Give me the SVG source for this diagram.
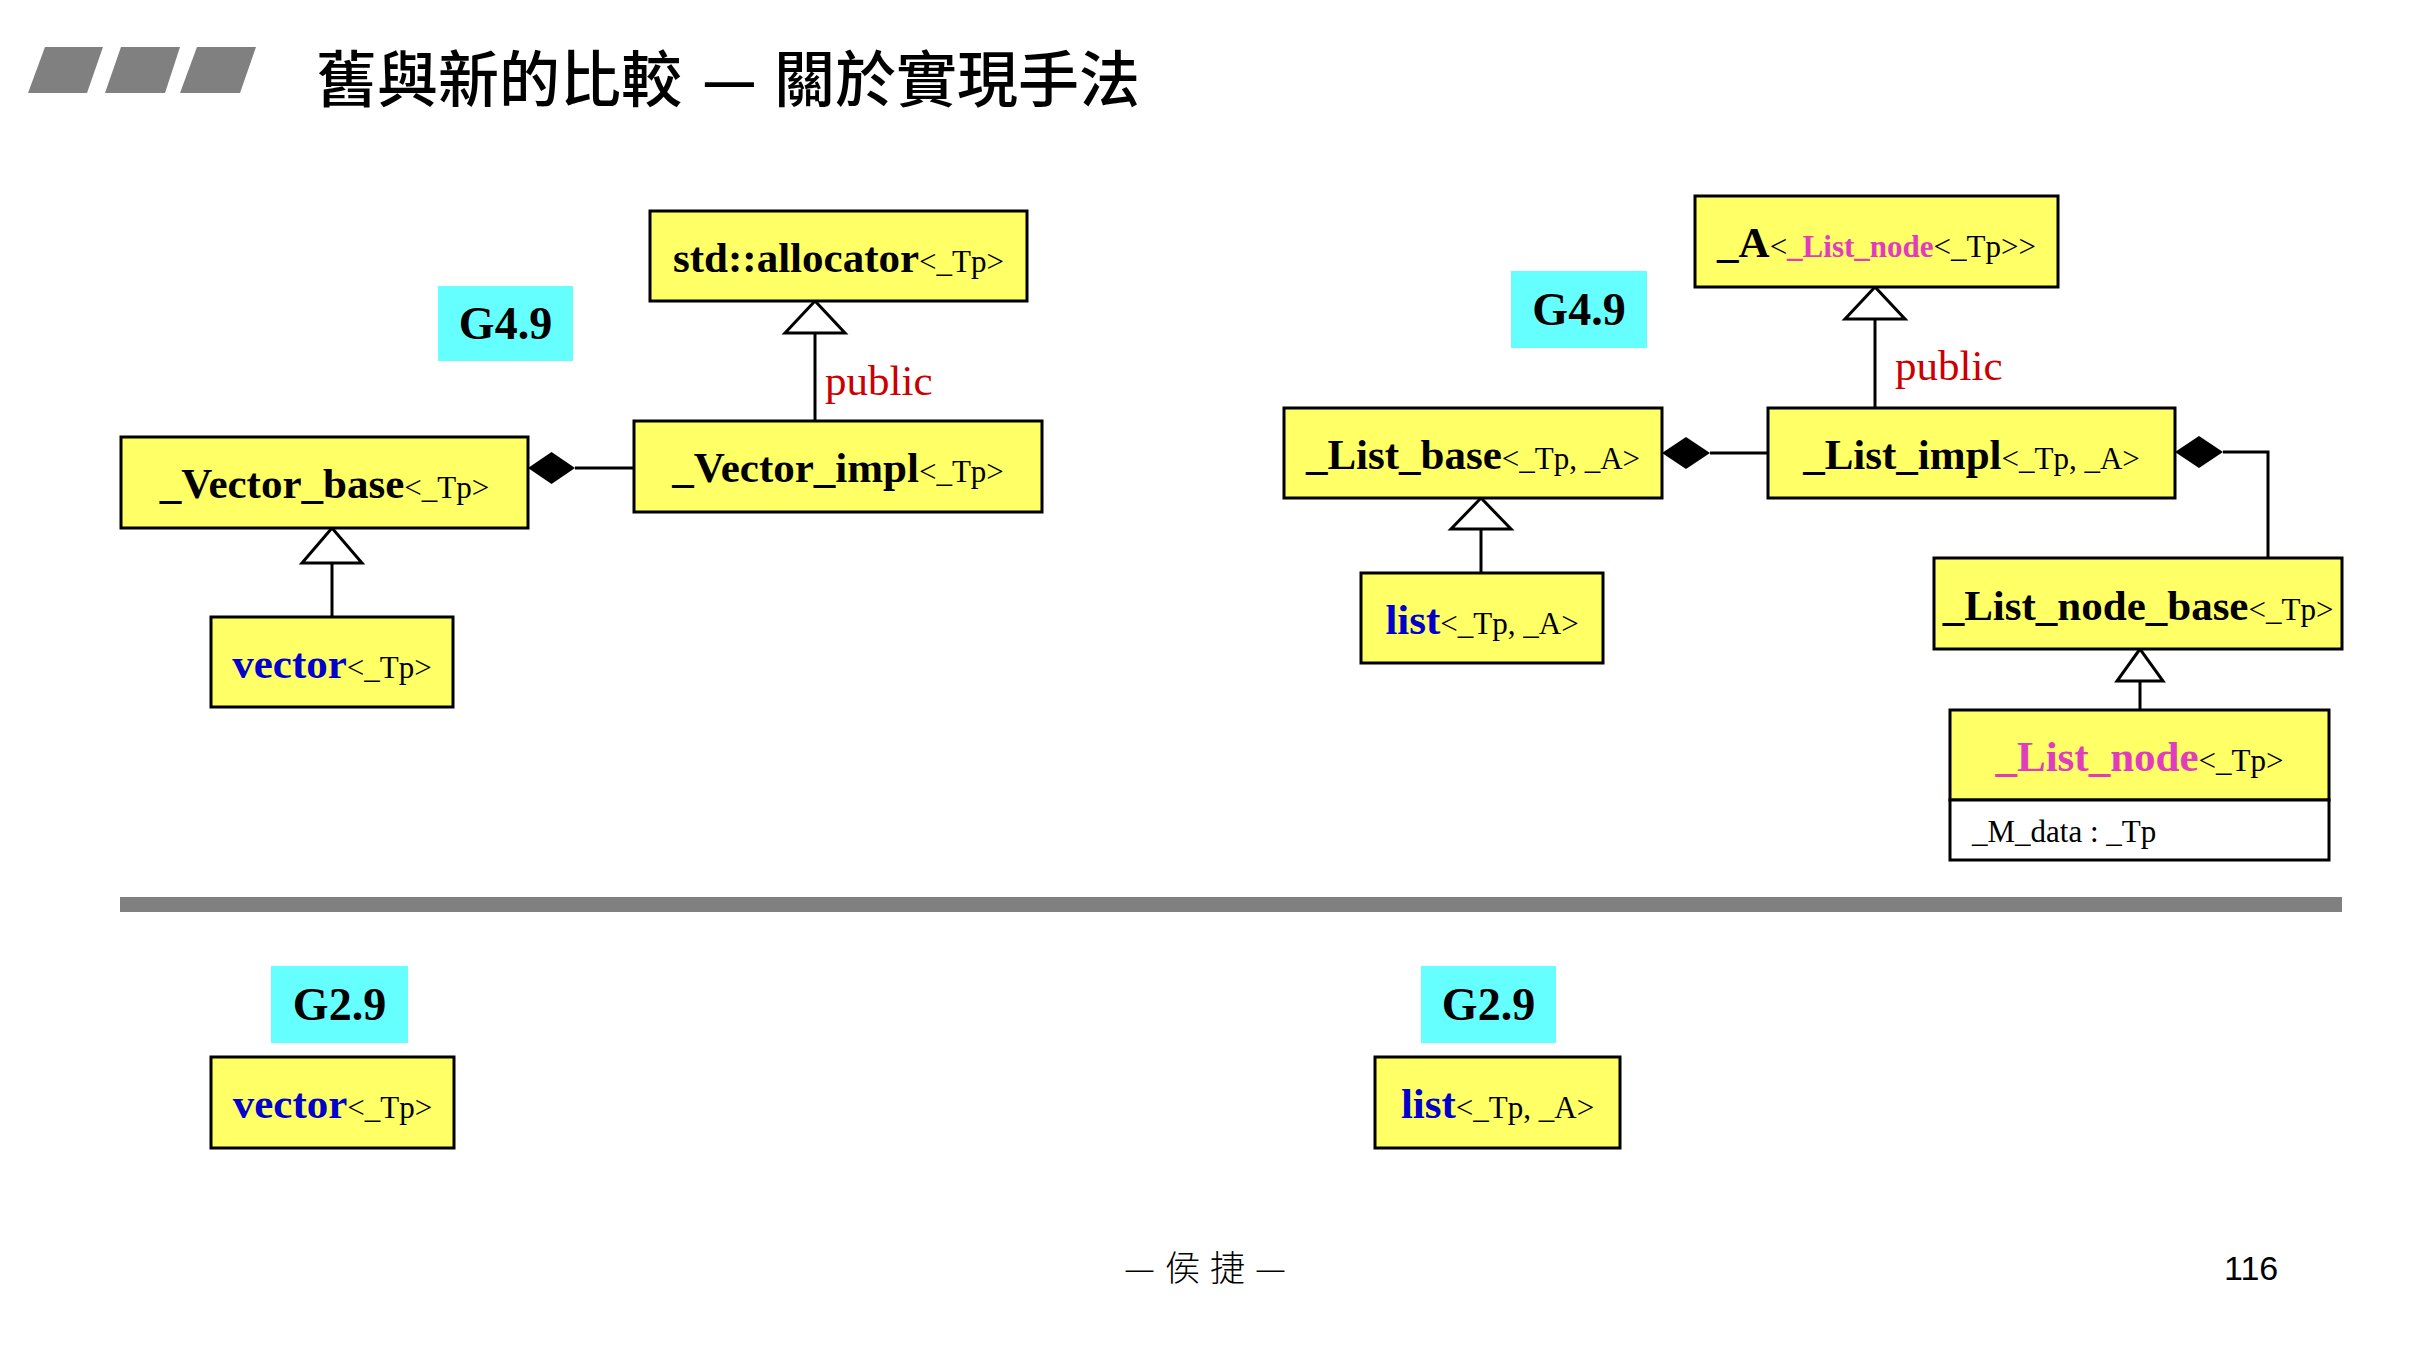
<svg xmlns="http://www.w3.org/2000/svg" width="2417" height="1359" viewBox="0 0 2417 1359">
  <style>
    .box{fill:#FFFF66;stroke:#000;stroke-width:3}
    .field{fill:#FFFFFF;stroke:#000;stroke-width:3}
    .tag{fill:#66FFFF}
    .lbl{font-family:"Liberation Serif","Times New Roman",serif;font-size:43px;font-weight:bold;fill:#000}
    .tp{font-weight:normal;font-size:31px}
    .attr{font-family:"Liberation Serif","Times New Roman",serif;font-size:31px;fill:#000}
    .blue{fill:#0000CC}
    .pink{fill:#E23CBE}
    .ver{font-family:"Liberation Serif","Times New Roman",serif;font-size:46px;font-weight:bold;fill:#000}
    .pub{font-family:"Liberation Serif","Times New Roman",serif;font-size:43px;fill:#CC0000}
    .edge{stroke:#000;stroke-width:3;fill:none}
    .tri{fill:#FFFFFF;stroke:#000;stroke-width:3;stroke-linejoin:miter}
    .dia{fill:#000}
    .bar{fill:#808080}
  </style>

  <!-- heading -->
  <g id="heading">
    <polygon class="bar" points="45,47 103,47 87,93 28,93"/>
    <polygon class="bar" points="121,47 180,47 165,93 105,93"/>
    <polygon class="bar" points="197,47 256,47 240,93 180,93"/>
    <text font-family="'Noto Sans CJK TC','Noto Sans CJK SC',sans-serif" font-size="61" font-weight="500" fill="#000"><tspan x="316" y="102">舊與新的比較</tspan><tspan x="702" y="102">—</tspan><tspan x="774" y="102">關於實現手法</tspan></text>
  </g>

  <!-- connectors -->
  <g id="connectors">
    <!-- _Vector_impl inherits std::allocator -->
    <line class="edge" x1="815" y1="421" x2="815" y2="333"/>
    <polygon class="tri" points="815,301 785,333 845,333"/>
    <text class="pub" x="825" y="395">public</text>
    <!-- vector inherits _Vector_base -->
    <line class="edge" x1="332" y1="617" x2="332" y2="563"/>
    <polygon class="tri" points="332,528 302,563 362,563"/>
    <!-- _Vector_base owns _Vector_impl -->
    <polygon class="dia" points="528,468 551.5,452 575,468 551.5,484"/>
    <line class="edge" x1="575" y1="468" x2="634" y2="468"/>

    <!-- _List_impl inherits _A -->
    <line class="edge" x1="1875" y1="408" x2="1875" y2="319"/>
    <polygon class="tri" points="1875,287 1845,319 1905,319"/>
    <text class="pub" x="1895" y="380">public</text>
    <!-- list inherits _List_base -->
    <line class="edge" x1="1481" y1="573" x2="1481" y2="529"/>
    <polygon class="tri" points="1481,498 1451,529 1511,529"/>
    <!-- _List_base owns _List_impl -->
    <polygon class="dia" points="1662,453 1686,437 1710,453 1686,469"/>
    <line class="edge" x1="1710" y1="453" x2="1768" y2="453"/>
    <!-- _List_impl owns _List_node_base -->
    <polygon class="dia" points="2175,452 2199,436 2223,452 2199,468"/>
    <polyline class="edge" points="2223,452 2268,452 2268,558"/>
    <!-- _List_node inherits _List_node_base -->
    <line class="edge" x1="2140" y1="710" x2="2140" y2="681"/>
    <polygon class="tri" points="2140,649 2117,681 2163,681"/>
  </g>

  <!-- G4.9 vector -->
  <g id="tag-g49-vector">
    <rect class="tag" x="438" y="286" width="135" height="75"/>
    <text class="ver" x="505.5" y="339" text-anchor="middle">G4.9</text>
  </g>
  <g id="node-allocator">
    <rect class="box" x="650" y="211" width="377" height="90"/>
    <text class="lbl" x="838.5" y="272" text-anchor="middle">std::allocator<tspan class="tp">&lt;_Tp&gt;</tspan></text>
  </g>
  <g id="node-vector-impl">
    <rect class="box" x="634" y="421" width="408" height="91"/>
    <text class="lbl" x="838" y="482" text-anchor="middle">_Vector_impl<tspan class="tp">&lt;_Tp&gt;</tspan></text>
  </g>
  <g id="node-vector-base">
    <rect class="box" x="121" y="437" width="407" height="91"/>
    <text class="lbl" x="324.5" y="498" text-anchor="middle">_Vector_base<tspan class="tp">&lt;_Tp&gt;</tspan></text>
  </g>
  <g id="node-vector-new">
    <rect class="box" x="211" y="617" width="242" height="90"/>
    <text class="lbl" x="332" y="678" text-anchor="middle"><tspan class="blue">vector</tspan><tspan class="tp">&lt;_Tp&gt;</tspan></text>
  </g>

  <!-- G4.9 list -->
  <g id="tag-g49-list">
    <rect class="tag" x="1511" y="271" width="136" height="77"/>
    <text class="ver" x="1579" y="325" text-anchor="middle">G4.9</text>
  </g>
  <g id="node-alloc-A">
    <rect class="box" x="1695" y="196" width="363" height="91"/>
    <text class="lbl" x="1876.5" y="257" text-anchor="middle">_A<tspan class="tp">&lt;</tspan><tspan class="pink" font-size="31">_List_node</tspan><tspan class="tp">&lt;_Tp&gt;&gt;</tspan></text>
  </g>
  <g id="node-list-base">
    <rect class="box" x="1284" y="408" width="378" height="90"/>
    <text class="lbl" x="1473" y="469" text-anchor="middle">_List_base<tspan class="tp">&lt;_Tp, _A&gt;</tspan></text>
  </g>
  <g id="node-list-impl">
    <rect class="box" x="1768" y="408" width="407" height="90"/>
    <text class="lbl" x="1971.5" y="469" text-anchor="middle">_List_impl<tspan class="tp">&lt;_Tp, _A&gt;</tspan></text>
  </g>
  <g id="node-list-new">
    <rect class="box" x="1361" y="573" width="242" height="90"/>
    <text class="lbl" x="1482" y="634" text-anchor="middle"><tspan class="blue">list</tspan><tspan class="tp">&lt;_Tp, _A&gt;</tspan></text>
  </g>
  <g id="node-list-node-base">
    <rect class="box" x="1934" y="558" width="408" height="91"/>
    <text class="lbl" x="2138" y="620" text-anchor="middle">_List_node_base<tspan class="tp">&lt;_Tp&gt;</tspan></text>
  </g>
  <g id="node-list-node">
    <rect class="box" x="1950" y="710" width="379" height="90"/>
    <rect class="field" x="1950" y="800" width="379" height="60"/>
    <text class="lbl" x="2139.5" y="771" text-anchor="middle"><tspan class="pink">_List_node</tspan><tspan class="tp">&lt;_Tp&gt;</tspan></text>
    <text class="attr" x="1972" y="842">_M_data : _Tp</text>
  </g>

  <!-- divider -->
  <rect id="divider" class="bar" x="120" y="897" width="2222" height="15"/>

  <!-- G2.9 -->
  <g id="tag-g29-vector">
    <rect class="tag" x="271" y="966" width="137" height="77"/>
    <text class="ver" x="339.5" y="1020" text-anchor="middle">G2.9</text>
  </g>
  <g id="node-vector-old">
    <rect class="box" x="211" y="1057" width="243" height="91"/>
    <text class="lbl" x="332.5" y="1118" text-anchor="middle"><tspan class="blue">vector</tspan><tspan class="tp">&lt;_Tp&gt;</tspan></text>
  </g>
  <g id="tag-g29-list">
    <rect class="tag" x="1421" y="966" width="135" height="77"/>
    <text class="ver" x="1488.5" y="1020" text-anchor="middle">G2.9</text>
  </g>
  <g id="node-list-old">
    <rect class="box" x="1375" y="1057" width="245" height="91"/>
    <text class="lbl" x="1497.5" y="1118" text-anchor="middle"><tspan class="blue">list</tspan><tspan class="tp">&lt;_Tp, _A&gt;</tspan></text>
  </g>

  <!-- footer -->
  <g id="footer">
    <text x="1210" y="1281" text-anchor="middle" font-family="'Noto Sans CJK TC','Noto Sans CJK SC',sans-serif" font-size="35" font-weight="300" letter-spacing="10" fill="#000">—侯捷—</text>
    <text x="2224" y="1280" font-family="'Liberation Sans',Arial,sans-serif" font-size="34" fill="#000">116</text>
  </g>
</svg>
